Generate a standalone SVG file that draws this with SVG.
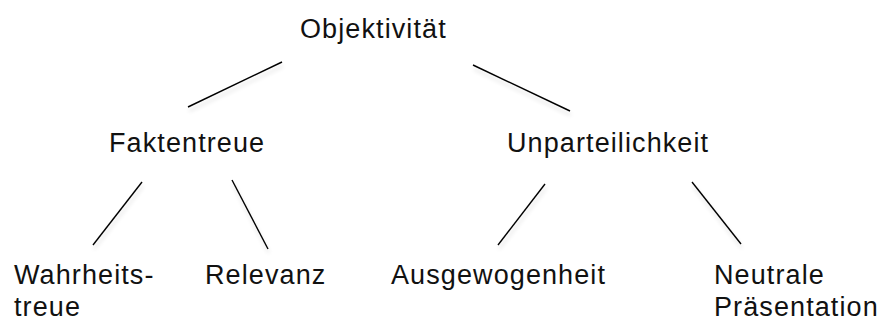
<svg xmlns="http://www.w3.org/2000/svg" width="880" height="322" viewBox="0 0 880 322">
<defs>
<style>
text{font-family:"Liberation Sans",Arial,sans-serif;font-size:27px;fill:#111;letter-spacing:1.1px}
.c line{stroke:#000;stroke-width:1.4;fill:none}
</style>
<filter id="sh" x="-20%" y="-20%" width="140%" height="160%">
<feGaussianBlur in="SourceAlpha" stdDeviation="2"/>
<feOffset dx="1" dy="4" result="b"/>
<feComponentTransfer><feFuncA type="linear" slope="0.15"/></feComponentTransfer>
<feMerge><feMergeNode/><feMergeNode in="SourceGraphic"/></feMerge>
</filter>
</defs>
<rect width="880" height="322" fill="#fff"/>
<g class="c" id="connectors" filter="url(#sh)">
<line x1="282" y1="62" x2="188" y2="107"/>
<line x1="473" y1="65" x2="570" y2="111"/>
<line x1="142" y1="182" x2="93" y2="245"/>
<line x1="232" y1="180" x2="268" y2="249"/>
<line x1="545" y1="184" x2="498" y2="245"/>
<line x1="692" y1="182" x2="741" y2="244"/>
</g>
<g id="objektivitaet"><text x="300" y="38">Objektivität</text></g>
<g id="faktentreue"><text x="109" y="152">Faktentreue</text></g>
<g id="unparteilichkeit"><text x="507" y="152">Unparteilichkeit</text></g>
<g id="wahrheitstreue"><text x="14" y="284">Wahrheits-</text><text x="14" y="316">treue</text></g>
<g id="relevanz"><text x="205" y="284">Relevanz</text></g>
<g id="ausgewogenheit"><text x="391" y="284">Ausgewogenheit</text></g>
<g id="neutrale"><text x="714" y="284">Neutrale</text><text x="714" y="316">Präsentation</text></g>
</svg>
